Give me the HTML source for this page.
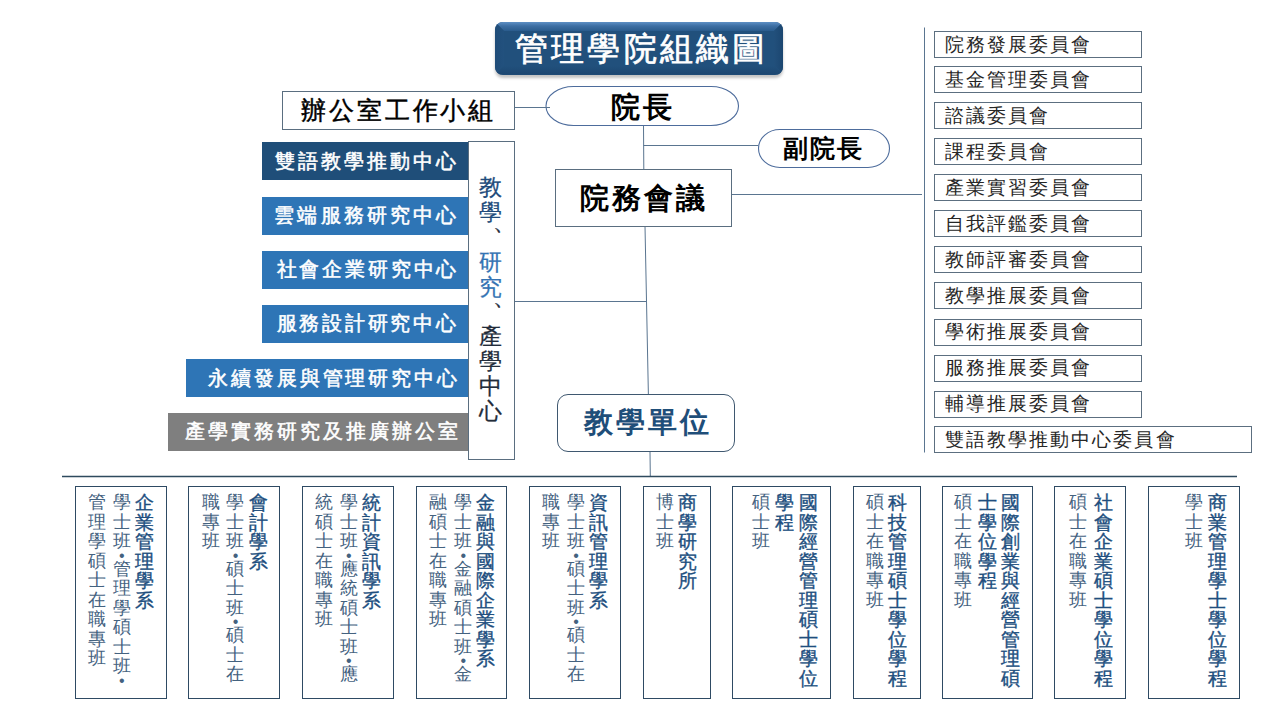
<!DOCTYPE html>
<html lang="zh-Hant">
<head>
<meta charset="utf-8">
<style>
*{margin:0;padding:0;box-sizing:border-box;}
html,body{width:1280px;height:720px;overflow:hidden;background:#fff;}
body{position:relative;font-family:"Liberation Sans",sans-serif;}
.a{position:absolute;}
.tx{position:absolute;white-space:nowrap;line-height:1;}
.bx{position:absolute;border:1px solid #5a6e80;background:#fff;}
.cb{position:absolute;left:934px;width:208px;height:27px;border:1px solid #5c6f80;background:#fff;}
.ct{color:#262626;}
.cbar{position:absolute;height:38px;}
.ctr{color:#fff;-webkit-text-stroke:0.55px currentColor;}
.ub{position:absolute;top:486px;height:213px;border:1.3px solid #2e4a63;background:#fff;}
.vc{text-align:center;white-space:normal;}
.vc .c,.vc .d{display:block;}
.pu{position:relative;}
.vt{color:#204e7e;-webkit-text-stroke:0.35px currentColor;}
.vs{color:#44627f;}
</style>
</head>
<body>

<svg class="a" style="left:0;top:0" width="1280" height="720">
  <g stroke="#5a7590" stroke-width="1" fill="none">
    <line x1="643.5" y1="125" x2="643.8" y2="169"/>
    <line x1="643.5" y1="145.5" x2="758" y2="145.5"/>
    <line x1="731" y1="194.5" x2="922" y2="194.5"/>
    <line x1="924.5" y1="27.5" x2="924.5" y2="452.5"/>
    <line x1="645" y1="226" x2="648.4" y2="395"/>
    <line x1="514.5" y1="301.5" x2="647" y2="301.5"/>
    <line x1="650" y1="452" x2="650.3" y2="476"/>
  </g>
  <line x1="62" y1="476.5" x2="1237" y2="476.5" stroke="#2e4a5e" stroke-width="1.4"/>
  <path d="M573.5 86.5 H711 A27.5 19.5 0 0 1 711 125.5 H573.5 A27.5 19.5 0 0 1 573.5 86.5 Z" fill="#fff" stroke="#4d6c9c" stroke-width="1.1"/>
  <path d="M780 129.5 H868 A21.5 19 0 0 1 868 167.5 H780 A21.5 19 0 0 1 780 129.5 Z" fill="#fff" stroke="#4d6c9c" stroke-width="1.1"/>
  <line x1="514.5" y1="107.5" x2="550" y2="107.5" stroke="#5a7590" stroke-width="1"/>
</svg>

<div class="a" id="titlebox" style="left:495px;top:22px;width:288px;height:52.6px;border-radius:8px;overflow:hidden;background:#21507c;box-shadow:0 3px 3px rgba(0,0,0,0.24);">
<div class="a" style="left:0;top:0;width:288px;height:9px;clip-path:polygon(0 0,100% 0,279px 9px,9px 9px);background:linear-gradient(#5d8fc4,#3c6ea3 45%,#2a5b8c);"></div>
<div class="a" style="left:279px;top:0;width:9px;height:52px;clip-path:polygon(100% 0,100% 100%,0 43px,0 9px);background:linear-gradient(90deg,#22507c,#1b4670);"></div>
<div class="a" style="left:0;top:0;width:9px;height:52px;clip-path:polygon(0 0,9px 9px,9px 43px,0 100%);background:linear-gradient(90deg,#1f4c78,#22517e);"></div>
<div class="a" style="left:0;top:43.6px;width:288px;height:9px;clip-path:polygon(0 100%,100% 100%,279px 0,9px 0);background:linear-gradient(#21507c,#1c4670);"></div>
</div>
<div class="tx " id="title" style="left:515.20px;top:32.12px;font-size:33.20px;letter-spacing:3.13px;color:#fff;-webkit-text-stroke:0.7px currentColor;">管理學院組織圖</div>
<div class="bx" style="left:282px;top:91px;width:233px;height:39px;"></div>
<div class="tx " id="office" style="left:301.12px;top:98.64px;font-size:24.70px;letter-spacing:2.87px;color:#000;-webkit-text-stroke:0.45px currentColor;">辦公室工作小組</div>
<div class="tx " id="dean" style="left:611.40px;top:92.64px;font-size:29.20px;letter-spacing:2.87px;font-weight:700;color:#000;">院長</div>
<div class="tx " id="vdean" style="left:782.72px;top:136.88px;font-size:24.50px;letter-spacing:2.32px;font-weight:700;color:#000;">副院長</div>
<div class="bx" style="left:555px;top:169px;width:177px;height:58px;"></div>
<div class="tx " id="council" style="left:580.20px;top:182.52px;font-size:29.30px;letter-spacing:3.00px;font-weight:700;color:#000;">院務會議</div>
<div class="bx" style="left:557px;top:394px;width:178px;height:58px;border-radius:11px;border-color:#3f5870;"></div>
<div class="tx " id="teach" style="left:583.80px;top:406.94px;font-size:29.40px;letter-spacing:2.91px;font-weight:700;color:#1f4e79;">教學單位</div>
<div class="cbar" style="left:262px;top:142px;width:206px;background:#1f4e79;"></div>
<div class="tx ctr" id="bar0" style="left:275.32px;top:150.72px;font-size:20.30px;letter-spacing:3.01px;">雙語教學推動中心</div>
<div class="cbar" style="left:262px;top:197px;width:206px;background:#2e75b6;"></div>
<div class="tx ctr" id="bar1" style="left:274.32px;top:205.24px;font-size:20.30px;letter-spacing:3.15px;">雲端服務研究中心</div>
<div class="cbar" style="left:262px;top:251px;width:206px;background:#2e75b6;"></div>
<div class="tx ctr" id="bar2" style="left:276.52px;top:259.36px;font-size:20.30px;letter-spacing:2.85px;">社會企業研究中心</div>
<div class="cbar" style="left:262px;top:305px;width:206px;background:#2e75b6;"></div>
<div class="tx ctr" id="bar3" style="left:276.52px;top:312.88px;font-size:20.30px;letter-spacing:2.79px;">服務設計研究中心</div>
<div class="cbar" style="left:186px;top:359px;width:282px;background:#2e75b6;"></div>
<div class="tx ctr" id="bar4" style="left:207.66px;top:367.72px;font-size:20.30px;letter-spacing:2.97px;">永續發展與管理研究中心</div>
<div class="cbar" style="left:168px;top:413px;width:300px;background:#7f7f7f;"></div>
<div class="tx ctr" id="bar5" style="left:184.64px;top:421.44px;font-size:20.30px;letter-spacing:2.99px;">產學實務研究及推廣辦公室</div>
<div class="bx" style="left:468px;top:141px;width:47px;height:319px;"></div>
<div class="tx vc" id="vcenter" style="left:479.00px;top:176.00px;width:22.50px;font-size:22.50px;line-height:24.90px;-webkit-text-stroke:0.25px currentColor;"><span class="c" style="color:#214b7b">教</span><span class="c" style="color:#214b7b">學</span><span class="c pu" style="color:#222c3a;left:13.5px;top:-15px">、</span><span class="c" style="color:#3473b3">研</span><span class="c" style="color:#3473b3">究</span><span class="c pu" style="color:#222c3a;left:13.5px;top:-15px">、</span><span class="c" style="color:#222c3a">產</span><span class="c" style="color:#222c3a">學</span><span class="c" style="color:#222c3a">中</span><span class="c" style="color:#222c3a">心</span></div>
<div class="cb" style="top:31px;"></div>
<div class="tx ct" id="com0" style="left:944.65px;top:34.97px;font-size:19.10px;letter-spacing:2.09px;">院務發展委員會</div>
<div class="cb" style="top:66px;"></div>
<div class="tx ct" id="com1" style="left:944.65px;top:70.27px;font-size:19.10px;letter-spacing:2.09px;">基金管理委員會</div>
<div class="cb" style="top:102px;"></div>
<div class="tx ct" id="com2" style="left:944.65px;top:105.77px;font-size:19.10px;letter-spacing:2.09px;">諮議委員會</div>
<div class="cb" style="top:138px;"></div>
<div class="tx ct" id="com3" style="left:944.65px;top:141.97px;font-size:19.10px;letter-spacing:2.09px;">課程委員會</div>
<div class="cb" style="top:174px;"></div>
<div class="tx ct" id="com4" style="left:944.65px;top:178.17px;font-size:19.10px;letter-spacing:2.09px;">產業實習委員會</div>
<div class="cb" style="top:210px;"></div>
<div class="tx ct" id="com5" style="left:944.65px;top:214.02px;font-size:19.10px;letter-spacing:2.09px;">自我評鑑委員會</div>
<div class="cb" style="top:246px;"></div>
<div class="tx ct" id="com6" style="left:944.65px;top:250.17px;font-size:19.10px;letter-spacing:2.09px;">教師評審委員會</div>
<div class="cb" style="top:282px;"></div>
<div class="tx ct" id="com7" style="left:944.65px;top:286.27px;font-size:19.10px;letter-spacing:2.09px;">教學推展委員會</div>
<div class="cb" style="top:319px;"></div>
<div class="tx ct" id="com8" style="left:944.65px;top:322.47px;font-size:19.10px;letter-spacing:2.09px;">學術推展委員會</div>
<div class="cb" style="top:355px;"></div>
<div class="tx ct" id="com9" style="left:944.65px;top:358.37px;font-size:19.10px;letter-spacing:2.09px;">服務推展委員會</div>
<div class="cb" style="top:391px;"></div>
<div class="tx ct" id="com10" style="left:944.65px;top:394.37px;font-size:19.10px;letter-spacing:2.09px;">輔導推展委員會</div>
<div class="cb" style="top:426px;width:318px;"></div>
<div class="tx ct" id="com11" style="left:944.65px;top:430.27px;font-size:19.10px;letter-spacing:2.09px;">雙語教學推動中心委員會</div>
<div class="ub" style="left:75px;width:92px;"></div>
<div class="ub" style="left:188px;width:92px;"></div>
<div class="ub" style="left:302px;width:92px;"></div>
<div class="ub" style="left:416px;width:91px;"></div>
<div class="ub" style="left:529px;width:92px;"></div>
<div class="ub" style="left:643px;width:68px;"></div>
<div class="ub" style="left:732px;width:99px;"></div>
<div class="ub" style="left:853px;width:68px;"></div>
<div class="ub" style="left:942px;width:91px;"></div>
<div class="ub" style="left:1054px;width:72px;"></div>
<div class="ub" style="left:1148px;width:92px;"></div>
<div class="tx vc vt" id="u0_0" style="left:133.15px;top:493.20px;width:22.50px;font-size:18.50px;line-height:19.50px;"><span class="c">企</span><span class="c">業</span><span class="c">管</span><span class="c">理</span><span class="c">學</span><span class="c">系</span></div>
<div class="tx vc vs" id="u0_1" style="left:110.85px;top:493.00px;width:21.70px;font-size:17.70px;line-height:19.55px;"><span class="c">學</span><span class="c">士</span><span class="c">班</span><span class="d" style="height:8.0px;line-height:8.0px;font-size:16px">•</span><span class="c">管</span><span class="c">理</span><span class="c">學</span><span class="c">碩</span><span class="c">士</span><span class="c">班</span><span class="d" style="height:8.0px;line-height:8.0px;font-size:16px">•</span></div>
<div class="tx vc vs" id="u0_2" style="left:86.55px;top:493.00px;width:21.70px;font-size:17.70px;line-height:19.55px;"><span class="c">管</span><span class="c">理</span><span class="c">學</span><span class="c">碩</span><span class="c">士</span><span class="c">在</span><span class="c">職</span><span class="c">專</span><span class="c">班</span></div>
<div class="tx vc vt" id="u1_0" style="left:247.05px;top:493.20px;width:22.50px;font-size:18.50px;line-height:19.50px;"><span class="c">會</span><span class="c">計</span><span class="c">學</span><span class="c">系</span></div>
<div class="tx vc vs" id="u1_1" style="left:224.65px;top:493.00px;width:21.70px;font-size:17.70px;line-height:19.55px;"><span class="c">學</span><span class="c">士</span><span class="c">班</span><span class="d" style="height:8.0px;line-height:8.0px;font-size:16px">•</span><span class="c">碩</span><span class="c">士</span><span class="c">班</span><span class="d" style="height:8.0px;line-height:8.0px;font-size:16px">•</span><span class="c">碩</span><span class="c">士</span><span class="c">在</span></div>
<div class="tx vc vs" id="u1_2" style="left:200.15px;top:493.00px;width:21.70px;font-size:17.70px;line-height:19.55px;"><span class="c">職</span><span class="c">專</span><span class="c">班</span></div>
<div class="tx vc vt" id="u2_0" style="left:360.15px;top:493.20px;width:22.50px;font-size:18.50px;line-height:19.50px;"><span class="c">統</span><span class="c">計</span><span class="c">資</span><span class="c">訊</span><span class="c">學</span><span class="c">系</span></div>
<div class="tx vc vs" id="u2_1" style="left:338.05px;top:493.00px;width:21.70px;font-size:17.70px;line-height:19.55px;"><span class="c">學</span><span class="c">士</span><span class="c">班</span><span class="d" style="height:8.0px;line-height:8.0px;font-size:16px">•</span><span class="c">應</span><span class="c">統</span><span class="c">碩</span><span class="c">士</span><span class="c">班</span><span class="d" style="height:8.0px;line-height:8.0px;font-size:16px">•</span><span class="c">應</span></div>
<div class="tx vc vs" id="u2_2" style="left:313.35px;top:493.00px;width:21.70px;font-size:17.70px;line-height:19.55px;"><span class="c">統</span><span class="c">碩</span><span class="c">士</span><span class="c">在</span><span class="c">職</span><span class="c">專</span><span class="c">班</span></div>
<div class="tx vc vt" id="u3_0" style="left:474.15px;top:493.20px;width:22.50px;font-size:18.50px;line-height:19.50px;"><span class="c">金</span><span class="c">融</span><span class="c">與</span><span class="c">國</span><span class="c">際</span><span class="c">企</span><span class="c">業</span><span class="c">學</span><span class="c">系</span></div>
<div class="tx vc vs" id="u3_1" style="left:452.45px;top:493.00px;width:21.70px;font-size:17.70px;line-height:19.55px;"><span class="c">學</span><span class="c">士</span><span class="c">班</span><span class="d" style="height:8.0px;line-height:8.0px;font-size:16px">•</span><span class="c">金</span><span class="c">融</span><span class="c">碩</span><span class="c">士</span><span class="c">班</span><span class="d" style="height:8.0px;line-height:8.0px;font-size:16px">•</span><span class="c">金</span></div>
<div class="tx vc vs" id="u3_2" style="left:427.35px;top:493.00px;width:21.70px;font-size:17.70px;line-height:19.55px;"><span class="c">融</span><span class="c">碩</span><span class="c">士</span><span class="c">在</span><span class="c">職</span><span class="c">專</span><span class="c">班</span></div>
<div class="tx vc vt" id="u4_0" style="left:586.85px;top:493.20px;width:22.50px;font-size:18.50px;line-height:19.50px;"><span class="c">資</span><span class="c">訊</span><span class="c">管</span><span class="c">理</span><span class="c">學</span><span class="c">系</span></div>
<div class="tx vc vs" id="u4_1" style="left:565.25px;top:493.00px;width:21.70px;font-size:17.70px;line-height:19.55px;"><span class="c">學</span><span class="c">士</span><span class="c">班</span><span class="d" style="height:8.0px;line-height:8.0px;font-size:16px">•</span><span class="c">碩</span><span class="c">士</span><span class="c">班</span><span class="d" style="height:8.0px;line-height:8.0px;font-size:16px">•</span><span class="c">碩</span><span class="c">士</span><span class="c">在</span></div>
<div class="tx vc vs" id="u4_2" style="left:540.15px;top:493.00px;width:21.70px;font-size:17.70px;line-height:19.55px;"><span class="c">職</span><span class="c">專</span><span class="c">班</span></div>
<div class="tx vc vt" id="u5_0" style="left:676.65px;top:493.20px;width:22.50px;font-size:18.50px;line-height:19.50px;"><span class="c">商</span><span class="c">學</span><span class="c">研</span><span class="c">究</span><span class="c">所</span></div>
<div class="tx vc vs" id="u5_1" style="left:654.15px;top:493.00px;width:21.70px;font-size:17.70px;line-height:19.55px;"><span class="c">博</span><span class="c">士</span><span class="c">班</span></div>
<div class="tx vc vt" id="u6_0" style="left:796.85px;top:493.20px;width:22.50px;font-size:18.50px;line-height:19.50px;"><span class="c">國</span><span class="c">際</span><span class="c">經</span><span class="c">營</span><span class="c">管</span><span class="c">理</span><span class="c">碩</span><span class="c">士</span><span class="c">學</span><span class="c">位</span></div>
<div class="tx vc vt" id="u6_1" style="left:773.65px;top:493.20px;width:22.50px;font-size:18.50px;line-height:19.50px;"><span class="c">學</span><span class="c">程</span></div>
<div class="tx vc vs" id="u6_2" style="left:749.75px;top:493.00px;width:21.70px;font-size:17.70px;line-height:19.55px;"><span class="c">碩</span><span class="c">士</span><span class="c">班</span></div>
<div class="tx vc vt" id="u7_0" style="left:886.65px;top:493.20px;width:22.50px;font-size:18.50px;line-height:19.50px;"><span class="c">科</span><span class="c">技</span><span class="c">管</span><span class="c">理</span><span class="c">碩</span><span class="c">士</span><span class="c">學</span><span class="c">位</span><span class="c">學</span><span class="c">程</span></div>
<div class="tx vc vs" id="u7_1" style="left:863.75px;top:493.00px;width:21.70px;font-size:17.70px;line-height:19.55px;"><span class="c">碩</span><span class="c">士</span><span class="c">在</span><span class="c">職</span><span class="c">專</span><span class="c">班</span></div>
<div class="tx vc vt" id="u8_0" style="left:998.95px;top:493.20px;width:22.50px;font-size:18.50px;line-height:19.50px;"><span class="c">國</span><span class="c">際</span><span class="c">創</span><span class="c">業</span><span class="c">與</span><span class="c">經</span><span class="c">營</span><span class="c">管</span><span class="c">理</span><span class="c">碩</span></div>
<div class="tx vc vt" id="u8_1" style="left:975.95px;top:493.20px;width:22.50px;font-size:18.50px;line-height:19.50px;"><span class="c">士</span><span class="c">學</span><span class="c">位</span><span class="c">學</span><span class="c">程</span></div>
<div class="tx vc vs" id="u8_2" style="left:951.75px;top:493.00px;width:21.70px;font-size:17.70px;line-height:19.55px;"><span class="c">碩</span><span class="c">士</span><span class="c">在</span><span class="c">職</span><span class="c">專</span><span class="c">班</span></div>
<div class="tx vc vt" id="u9_0" style="left:1091.75px;top:493.20px;width:22.50px;font-size:18.50px;line-height:19.50px;"><span class="c">社</span><span class="c">會</span><span class="c">企</span><span class="c">業</span><span class="c">碩</span><span class="c">士</span><span class="c">學</span><span class="c">位</span><span class="c">學</span><span class="c">程</span></div>
<div class="tx vc vs" id="u9_1" style="left:1066.85px;top:493.00px;width:21.70px;font-size:17.70px;line-height:19.55px;"><span class="c">碩</span><span class="c">士</span><span class="c">在</span><span class="c">職</span><span class="c">專</span><span class="c">班</span></div>
<div class="tx vc vt" id="u10_0" style="left:1205.85px;top:493.20px;width:22.50px;font-size:18.50px;line-height:19.50px;"><span class="c">商</span><span class="c">業</span><span class="c">管</span><span class="c">理</span><span class="c">學</span><span class="c">士</span><span class="c">學</span><span class="c">位</span><span class="c">學</span><span class="c">程</span></div>
<div class="tx vc vs" id="u10_1" style="left:1182.95px;top:493.00px;width:21.70px;font-size:17.70px;line-height:19.55px;"><span class="c">學</span><span class="c">士</span><span class="c">班</span></div>
</body>
</html>
